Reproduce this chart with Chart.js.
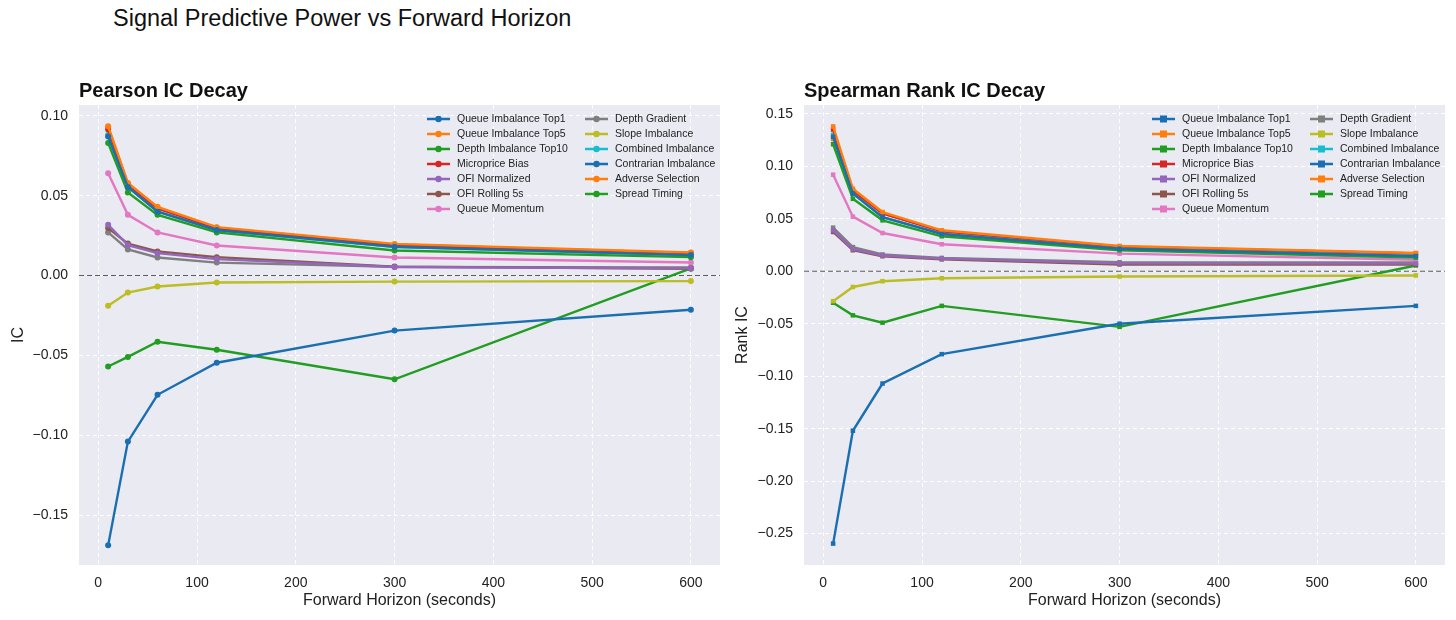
<!DOCTYPE html>
<html>
<head>
<meta charset="utf-8">
<script src="https://cdn.jsdelivr.net/npm/chart.js@4"></script>
<style>
  body { margin: 0; background: #fff; width: 1456px; height: 620px; overflow: hidden; font-family: "Liberation Sans", Arial, sans-serif; }
  #suptitle { position: absolute; left: 113px; top: 5px; font-size: 23.5px; color: #111; }
  .wrap { position: absolute; top: 0; width: 728px; height: 620px; }
</style>
</head>
<body>
<div id="suptitle">Signal Predictive Power vs Forward Horizon</div>
<div class="wrap" style="left:0"><canvas id="pearson"></canvas></div>
<div class="wrap" style="left:728px"><canvas id="spearman"></canvas></div>
<script>
// forward horizons (seconds)
const horizons = [10, 30, 60, 120, 300, 600];
const signalNames = ['Queue Imbalance Top1', 'Queue Imbalance Top5', 'Depth Imbalance Top10', 'Microprice Bias',
  'OFI Normalized', 'OFI Rolling 5s', 'Queue Momentum', 'Depth Gradient', 'Slope Imbalance',
  'Combined Imbalance', 'Contrarian Imbalance', 'Adverse Selection', 'Spread Timing'];
const colors = ['#1a6fb0', '#ff7f0e', '#219d21', '#d62728', '#9467bd', '#8c564b', '#e377c2',
  '#7f7f7f', '#bcbd22', '#17becf', '#1a6fb0', '#ff7f0e', '#219d21'];

// Pearson IC per signal
const pearsonTop1 = [0.087, 0.0555, 0.040, 0.0285, 0.018, 0.0128];
const pearsonTop5 = [0.0935, 0.058, 0.043, 0.0303, 0.0198, 0.0144];
const pearsonDepth10 = [0.083, 0.052, 0.038, 0.027, 0.0157, 0.0115];
const pearsonMicro = [0.0915, 0.057, 0.042, 0.0295, 0.019, 0.014];
const pearsonOfiNorm = [0.0318, 0.019, 0.014, 0.0103, 0.0053, 0.0045];
const pearsonOfiRoll = [0.0297, 0.020, 0.0151, 0.0115, 0.0056, 0.0042];
const pearsonMomentum = [0.064, 0.038, 0.027, 0.0188, 0.0113, 0.0082];
const pearsonGradient = [0.027, 0.0163, 0.0113, 0.0081, 0.0054, 0.005];
const pearsonSlope = [-0.019, -0.0107, -0.0069, -0.0044, -0.0038, -0.0035];
const pearsonCombined = [0.088, 0.0555, 0.0402, 0.0283, 0.0178, 0.0126];
const pearsonContrarian = [-0.169, -0.104, -0.0747, -0.0546, -0.0345, -0.0214];
const pearsonAdverse = [0.093, 0.0575, 0.0425, 0.030, 0.0195, 0.0142];
const pearsonSpread = [-0.057, -0.051, -0.0415, -0.0465, -0.065, 0.0045];

// Spearman rank IC per signal
const spearmanTop1 = [0.128, 0.074, 0.0515, 0.0355, 0.0215, 0.0145];
const spearmanTop5 = [0.138, 0.0786, 0.0564, 0.039, 0.024, 0.0174];
const spearmanDepth10 = [0.121, 0.069, 0.0485, 0.0333, 0.020, 0.013];
const spearmanMicro = [0.135, 0.077, 0.055, 0.038, 0.0235, 0.017];
const spearmanOfiNorm = [0.039, 0.021, 0.015, 0.012, 0.0075, 0.0073];
const spearmanOfiRoll = [0.0374, 0.020, 0.0143, 0.0113, 0.0064, 0.0064];
const spearmanMomentum = [0.092, 0.052, 0.0364, 0.0257, 0.0168, 0.011];
const spearmanGradient = [0.0415, 0.023, 0.016, 0.0127, 0.0086, 0.0083];
const spearmanSlope = [-0.0285, -0.015, -0.0095, -0.0067, -0.005, -0.004];
const spearmanCombined = [0.130, 0.0745, 0.0516, 0.0358, 0.0216, 0.0146];
const spearmanContrarian = [-0.2595, -0.152, -0.107, -0.079, -0.050, -0.033];
const spearmanAdverse = [0.126, 0.077, 0.055, 0.0385, 0.0235, 0.017];
const spearmanSpread = [-0.030, -0.042, -0.049, -0.033, -0.053, 0.0055];

const pearsonSeries = [pearsonTop1, pearsonTop5, pearsonDepth10, pearsonMicro, pearsonOfiNorm, pearsonOfiRoll,
  pearsonMomentum, pearsonGradient, pearsonSlope, pearsonCombined, pearsonContrarian, pearsonAdverse, pearsonSpread];
const spearmanSeries = [spearmanTop1, spearmanTop5, spearmanDepth10, spearmanMicro, spearmanOfiNorm, spearmanOfiRoll,
  spearmanMomentum, spearmanGradient, spearmanSlope, spearmanCombined, spearmanContrarian, spearmanAdverse, spearmanSpread];

const xTicks = [0, 100, 200, 300, 400, 500, 600];
const pearsonYTicks = [-0.15, -0.10, -0.05, 0.00, 0.05, 0.10];
const spearmanYTicks = [-0.25, -0.20, -0.15, -0.10, -0.05, 0.00, 0.05, 0.10, 0.15];

const FONT = '"Liberation Sans", Arial, sans-serif';

function fmt(v) {
  const s = Math.abs(v).toFixed(2);
  return v < -1e-9 ? '\u2212' + s : s;
}

// background, zero line, subplot title and in-plot legend
const decoration = {
  id: 'decoration',
  beforeDraw(chart) {
    const a = chart.chartArea, c = chart.ctx;
    c.save();
    c.fillStyle = '#eaeaf2';
    c.fillRect(a.left, a.top, a.right - a.left, a.bottom - a.top);
    c.restore();
  },
  beforeDatasetsDraw(chart) {
    const a = chart.chartArea, c = chart.ctx;
    const y0 = chart.scales.y.getPixelForValue(0);
    c.save();
    c.strokeStyle = 'rgba(40,40,40,0.75)';
    c.lineWidth = 1.1;
    c.setLineDash([5, 3]);
    c.beginPath();
    c.moveTo(a.left, y0);
    c.lineTo(a.right, y0);
    c.stroke();
    c.restore();
  },
  afterDraw(chart) {
    const a = chart.chartArea, c = chart.ctx;
    const opts = chart.options.plugins.decoration;
    c.save();
    c.fillStyle = '#111';
    c.font = 'bold 20px ' + FONT;
    c.textBaseline = 'alphabetic';
    c.fillText(opts.title, a.left, a.top - 8);

    c.font = '10.5px ' + FONT;
    c.textBaseline = 'middle';
    const x0 = a.right - 293;
    chart.data.datasets.forEach((ds, i) => {
      const col = i < 7 ? 0 : 1;
      const row = i < 7 ? i : i - 7;
      const lx = x0 + col * 158;
      const ly = a.top + 14 + row * 15;
      c.strokeStyle = ds.borderColor;
      c.lineWidth = 2.5;
      c.setLineDash([]);
      c.beginPath();
      c.moveTo(lx, ly);
      c.lineTo(lx + 23, ly);
      c.stroke();
      c.fillStyle = ds.borderColor;
      if (opts.square) {
        c.fillRect(lx + 11.5 - 3.5, ly - 3.5, 7, 7);
      } else {
        c.beginPath();
        c.arc(lx + 11.5, ly, 3.2, 0, Math.PI * 2);
        c.fill();
      }
      c.fillStyle = '#222';
      c.fillText(ds.label, lx + 30, ly + 0.5);
    });
    c.restore();
  }
};

function makeChart(id, series, yTicks, yMin, yMax, yTitle, title, square, yWidth, yTitlePad) {
  const datasets = series.map((vals, i) => ({
    label: signalNames[i],
    data: horizons.map((h, j) => ({ x: h, y: vals[j] })),
    borderColor: colors[i],
    backgroundColor: colors[i],
    borderWidth: 2.4,
    pointRadius: square ? 3.2 : 3,
    pointStyle: square ? 'rect' : 'circle',
    pointBorderWidth: 0,
    tension: 0
  }));
  return new Chart(document.getElementById(id), {
    type: 'line',
    data: { datasets },
    plugins: [decoration],
    options: {
      responsive: true,
      maintainAspectRatio: false,
      animation: false,
      layout: { padding: { top: 105, right: square ? 11 : 8, left: 0, bottom: 0 } },
      plugins: {
        legend: { display: false },
        tooltip: { enabled: false },
        decoration: { title, square }
      },
      scales: {
        x: {
          type: 'linear',
          min: -19.5,
          max: 629.5,
          afterBuildTicks: s => { s.ticks = xTicks.map(v => ({ value: v })); },
          afterFit: s => { s.height = 55; },
          grid: { color: 'rgba(255,255,255,0.95)', lineWidth: 1, drawTicks: false },
          border: { display: false, dash: [4, 3] },
          ticks: { padding: 10, color: '#222', font: { family: FONT, size: 14 }, callback: v => String(v) },
          title: { display: true, text: 'Forward Horizon (seconds)', color: '#222', font: { family: FONT, size: 16 }, padding: { top: 0, bottom: 10 } }
        },
        y: {
          min: yMin,
          max: yMax,
          afterBuildTicks: s => { s.ticks = yTicks.map(v => ({ value: v })); },
          afterFit: s => { s.width = yWidth; },
          grid: { color: 'rgba(255,255,255,0.95)', lineWidth: 1, drawTicks: false },
          border: { display: false, dash: [4, 3] },
          ticks: { padding: 11, color: '#222', font: { family: FONT, size: 14 }, callback: v => fmt(v) },
          title: { display: true, text: yTitle, color: '#222', font: { family: FONT, size: 16 }, padding: { top: yTitlePad, bottom: 0 } }
        }
      }
    }
  });
}

makeChart('pearson', pearsonSeries, pearsonYTicks, -0.1813, 0.1068, 'IC', 'Pearson IC Decay', false, 79, 9);
makeChart('spearman', spearmanSeries, spearmanYTicks, -0.2799, 0.1584, 'Rank IC', 'Spearman Rank IC Decay', true, 76, 5);
</script>
</body>
</html>
